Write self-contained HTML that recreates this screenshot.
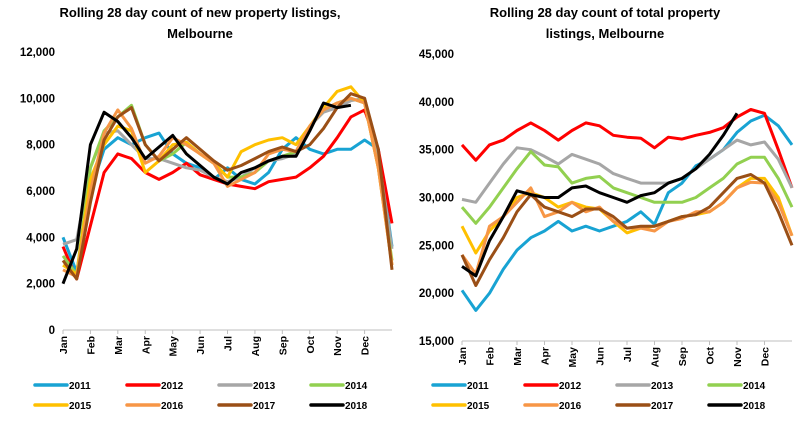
<!DOCTYPE html>
<html><head><meta charset="utf-8"><style>
body{margin:0;background:#fff;width:801px;height:422px;overflow:hidden;font-family:"Liberation Sans",sans-serif}
svg text{font-family:"Liberation Sans",sans-serif;font-weight:bold;fill:#000}
</style></head><body>
<svg id="c" width="801" height="422"></svg>
<script>
const months=["Jan","Feb","Mar","Apr","May","Jun","Jul","Aug","Sep","Oct","Nov","Dec"];
const years=["2011","2012","2013","2014","2015","2016","2017","2018"];
const colors=["#18a3d3","#ff0000","#a6a6a6","#92d050","#ffc000","#f79646","#9a4f16","#000000"];
const leftTicks=[0,2000,4000,6000,8000,10000,12000];
const rightTicks=[15000,20000,25000,30000,35000,40000,45000];
// new listings (thousands), half-month steps
const new2011=[4.0,2.5,6.0,7.8,8.3,8.0,8.3,8.5,7.6,7.2,7.0,6.5,7.0,6.5,6.3,6.8,7.8,8.3,7.8,7.6,7.8,7.8,8.2,7.8,3.6];
const new2012=[3.6,2.2,4.5,6.8,7.6,7.4,6.8,6.5,6.8,7.2,6.7,6.5,6.3,6.2,6.1,6.4,6.5,6.6,7.0,7.5,8.3,9.2,9.5,7.8,4.6];
const new2013=[3.7,3.9,7.0,8.5,8.6,8.0,7.4,7.4,7.2,7.0,6.9,6.6,6.4,6.6,7.0,7.3,7.4,7.6,8.8,9.4,9.6,9.9,10.0,7.5,3.5];
const new2014=[3.2,2.4,7.0,8.6,9.2,9.7,8.0,7.3,7.6,8.1,7.6,7.2,6.6,6.6,6.8,7.3,7.5,7.7,8.8,9.5,9.8,10.0,9.8,7.0,3.0];
const new2015=[2.8,2.4,6.5,8.0,8.8,8.6,6.8,7.3,8.0,8.1,7.6,7.2,6.6,7.7,8.0,8.2,8.3,8.0,8.8,9.6,10.3,10.5,9.8,7.0,2.8];
const new2016=[2.6,2.3,6.0,8.5,9.5,8.7,7.2,7.5,8.3,8.0,7.6,7.2,6.2,6.5,6.8,7.6,7.8,7.7,8.8,9.5,9.8,10.0,9.8,7.0,2.8];
const new2017=[3.0,2.2,5.5,8.2,9.2,9.6,8.0,7.3,7.8,8.3,7.8,7.3,6.9,7.1,7.4,7.7,7.9,7.7,8.0,8.7,9.6,10.2,10.0,7.8,2.6];
const new2018=[2.0,3.5,8.0,9.4,9.0,8.3,7.4,7.9,8.4,7.6,7.1,6.6,6.3,6.8,7.0,7.3,7.5,7.5,8.6,9.8,9.6,9.7];
// total listings (thousands)
const tot2011=[20.3,18.2,20.0,22.5,24.5,25.8,26.5,27.5,26.5,27.0,26.5,27.0,27.5,28.5,27.2,30.5,31.5,33.3,34.0,35.0,36.8,38.0,38.6,37.5,35.5];
const tot2012=[35.5,33.9,35.5,36.0,37.0,37.8,37.0,36.0,37.0,37.8,37.5,36.5,36.3,36.2,35.2,36.3,36.1,36.5,36.8,37.3,38.4,39.2,38.8,35.0,31.0];
const tot2013=[29.8,29.5,31.5,33.5,35.2,35.0,34.3,33.5,34.5,34.0,33.5,32.5,32.0,31.5,31.5,31.5,32.0,33.0,34.0,35.0,36.0,35.5,35.8,34.0,31.0];
const tot2014=[29.0,27.3,29.0,31.0,33.0,34.8,33.4,33.2,31.5,32.0,32.2,31.0,30.5,30.0,29.5,29.5,29.5,30.0,31.0,32.0,33.5,34.2,34.2,32.0,29.0];
const tot2015=[27.0,24.2,26.5,28.0,30.0,30.5,30.0,29.0,29.5,29.0,28.8,27.5,26.3,26.8,27.0,27.5,28.0,28.2,28.5,29.5,31.0,32.0,32.0,30.0,26.0];
const tot2016=[24.0,22.0,27.0,28.0,29.5,31.0,28.0,28.5,29.5,28.5,29.0,27.5,26.8,26.8,26.5,27.5,27.8,28.5,28.5,29.5,31.0,31.6,31.5,29.5,26.0];
const tot2017=[24.0,20.8,23.5,25.8,28.5,30.3,29.0,28.5,28.0,28.8,28.8,28.0,26.8,27.0,27.0,27.5,28.0,28.2,29.0,30.5,32.0,32.4,31.5,28.5,25.0];
const tot2018=[22.8,21.8,25.5,28.0,30.7,30.3,30.0,30.0,31.0,31.2,30.5,30.0,29.5,30.2,30.5,31.5,32.0,33.0,34.5,36.5,38.8];
const newSeries=[new2011,new2012,new2013,new2014,new2015,new2016,new2017,new2018];
const totSeries=[tot2011,tot2012,tot2013,tot2014,tot2015,tot2016,tot2017,tot2018];

const svg=document.getElementById('c');
const NS='http://www.w3.org/2000/svg';
function mk(t,a,p){const e=document.createElementNS(NS,t);for(const k in a)e.setAttribute(k,a[k]);(p||svg).appendChild(e);return e;}

function chart(o){
  const g=mk('g',{});
  
  
  const xs=i=>o.x0+(o.x1-o.x0)*i/24;
  const ys=v=>o.yb-(v-o.ymin)/(o.ymax-o.ymin)*(o.yb-o.yt);
  o.title.forEach((t,k)=>{const e=mk('text',{x:o.tx,y:17+k*21,'text-anchor':'middle','font-size':13},g);e.textContent=t;
    });
  o.ticks.forEach(v=>{const e=mk('text',{x:o.x0-8,y:ys(v)+4,'text-anchor':'end','font-size':11.5},g);
    e.textContent=v.toLocaleString('en-US');
    });
  const ax=mk('line',{x1:o.x0,x2:o.x1,y1:o.yb,y2:o.yb,stroke:'#bfbfbf','stroke-width':1},g);
  
  months.forEach((m,i)=>{
    const x=xs(i*2);
    mk('line',{x1:x,x2:x,y1:o.yb,y2:o.yb+4,stroke:'#bfbfbf'},g);
    const e=mk('text',{transform:`translate(${x+4},${o.yb+6}) rotate(-90)`,'text-anchor':'end','font-size':10.5},g);
    e.textContent=m;
  });
  o.series.forEach((s,k)=>{
    const d=s.map((v,i)=>(i?'L':'M')+xs(i).toFixed(1)+','+ys(v*1000).toFixed(1)).join(' ');
    const p=mk('path',{d:d,fill:'none',stroke:colors[k],'stroke-width':3,'stroke-linejoin':'round'},g);
    
  });
  years.forEach((y,k)=>{
    const lx=o.lx+(k%4)*92, ly=385+Math.floor(k/4)*20;
    const lg=mk('g',{},g);
    
    mk('line',{x1:lx,x2:lx+32,y1:ly,y2:ly,stroke:colors[k],'stroke-width':3.5,'stroke-linecap':'round'},lg);
    const t=mk('text',{x:lx+34,y:ly+4,'font-size':10},lg);t.textContent=y;
  });
}
chart({name:'new-listings-chart',title:['Rolling 28 day count of new property listings,','Melbourne'],tx:200,
  x0:63,x1:392,yt:52,yb:330,ymin:0,ymax:12000,ticks:leftTicks,series:newSeries,lx:35});
chart({name:'total-listings-chart',title:['Rolling 28 day count of total property','listings, Melbourne'],tx:605,
  x0:462,x1:792,yt:54,yb:341,ymin:15000,ymax:45000,ticks:rightTicks,series:totSeries,lx:433});
</script>
</body></html>
